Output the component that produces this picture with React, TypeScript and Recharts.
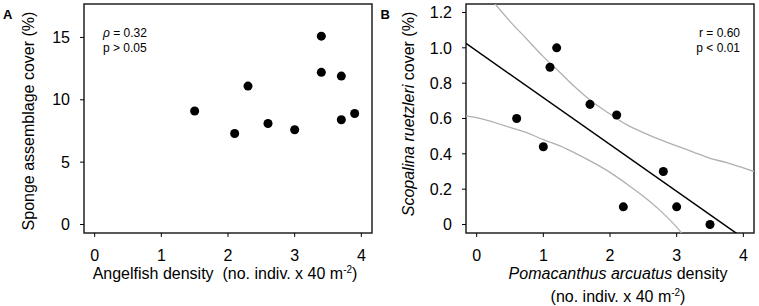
import { ComposedChart, Scatter, Line, XAxis, YAxis, ReferenceArea } from 'recharts';

const FONT = '"Liberation Sans", Arial, Helvetica, sans-serif';

// Panel A: angelfish density vs sponge assemblage cover
const angelDensity = [1.5, 2.1, 2.3, 2.6, 3.0, 3.4, 3.4, 3.7, 3.7, 3.9];
const spongeCover = [9.1, 7.3, 11.1, 8.1, 7.6, 15.1, 12.2, 11.9, 8.4, 8.9];
const xTicks = [0, 1, 2, 3, 4];
const yTicksA = [0, 5, 10, 15];

// Panel B: Pomacanthus arcuatus density vs Scopalina ruetzleri cover
const pomDensity = [0.6, 1.0, 1.1, 1.2, 1.7, 2.1, 2.2, 2.8, 3.0, 3.5];
const scopalinaCover = [0.6, 0.44, 0.89, 1.0, 0.68, 0.62, 0.1, 0.3, 0.1, 0.0];
const yTicksB = [0, 0.2, 0.4, 0.6, 0.8, 1.0, 1.2];

// regression line + confidence band
const fitX = [-0.16, 4.0];
const fitY = [1.025, -0.077];
const upperX = [0.25, 0.5, 0.75, 1.0, 1.25, 1.5, 1.75, 2.0, 2.25, 2.5, 2.75, 3.0, 3.25, 3.5, 3.75, 4.0, 4.16];
const upperY = [1.26, 1.15, 1.05, 0.95, 0.86, 0.77, 0.69, 0.625, 0.565, 0.52, 0.48, 0.445, 0.41, 0.375, 0.35, 0.32, 0.3];
const lowerX = [-0.16, 0, 0.25, 0.5, 0.75, 1.0, 1.25, 1.5, 1.75, 2.0, 2.25, 2.5, 2.75, 3.0, 3.1];
const lowerY = [0.615, 0.605, 0.58, 0.55, 0.52, 0.48, 0.445, 0.4, 0.35, 0.295, 0.23, 0.16, 0.08, -0.015, -0.06];

const xDomain: [number, number] = [-0.16, 4.16];
const yDomainA: [number, number] = [-0.68, 17.68];
const yDomainB: [number, number] = [-0.048, 1.248];

const toPoints = (xs: number[], ys: number[]) => xs.map((x, i) => ({ x, y: ys[i] }));

const tickStyle = { fill: '#000', fontSize: 16, fontFamily: FONT };

function Sup() {
  return (
    <>
      <tspan fontSize={10} dy={-6}>-2</tspan>
      <tspan dy={6}>)</tspan>
    </>
  );
}

export default function App() {
  return (
    <div style={{ position: 'absolute', left: 0, top: 0, width: 759, height: 306, background: '#fff' }}>
      <div style={{ position: 'absolute', left: 0, top: 0 }}>
        <ComposedChart width={380} height={306} margin={{ top: 4, right: 8, bottom: 0, left: 0 }}>
          <XAxis
            type="number"
            dataKey="x"
            domain={xDomain}
            ticks={xTicks}
            interval={0}
            allowDataOverflow
            height={73}
            axisLine={false}
            tickLine={{ stroke: '#000' }}
            tickSize={4}
            tickMargin={13}
            tick={tickStyle}
          />
          <YAxis
            type="number"
            dataKey="y"
            domain={yDomainA}
            ticks={yTicksA}
            interval={0}
            allowDataOverflow
            width={84}
            axisLine={false}
            tickLine={{ stroke: '#000' }}
            tickSize={4}
            tickMargin={10}
            tick={tickStyle}
          />
          <ReferenceArea x1={xDomain[0]} x2={xDomain[1]} y1={yDomainA[0]} y2={yDomainA[1]} fill="none" stroke="#222" strokeWidth={1.5} />
          <Scatter data={toPoints(angelDensity, spongeCover)} fill="#000" isAnimationActive={false} />
        </ComposedChart>
      </div>
      <div style={{ position: 'absolute', left: 380, top: 0 }}>
        <ComposedChart width={379} height={306} margin={{ top: 4, right: 5, bottom: 0, left: 0 }}>
          <XAxis
            type="number"
            dataKey="x"
            domain={xDomain}
            ticks={xTicks}
            interval={0}
            allowDataOverflow
            height={73}
            axisLine={false}
            tickLine={{ stroke: '#000' }}
            tickSize={4}
            tickMargin={13}
            tick={tickStyle}
          />
          <YAxis
            type="number"
            dataKey="y"
            domain={yDomainB}
            ticks={yTicksB}
            interval={0}
            allowDataOverflow
            width={86}
            axisLine={false}
            tickLine={{ stroke: '#000' }}
            tickSize={4}
            tickMargin={10}
            tick={tickStyle}
            tickFormatter={(v: number) => (v === 0 ? '0' : v.toFixed(1))}
          />
          <ReferenceArea x1={xDomain[0]} x2={xDomain[1]} y1={yDomainB[0]} y2={yDomainB[1]} fill="none" stroke="#222" strokeWidth={1.5} />
          <Line data={toPoints(upperX, upperY)} dataKey="y" type="monotone" stroke="#b0b0b0" strokeWidth={1.3} dot={false} isAnimationActive={false} />
          <Line data={toPoints(lowerX, lowerY)} dataKey="y" type="monotone" stroke="#b0b0b0" strokeWidth={1.3} dot={false} isAnimationActive={false} />
          <Line data={toPoints(fitX, fitY)} dataKey="y" type="linear" stroke="#000" strokeWidth={1.5} dot={false} isAnimationActive={false} />
          <Scatter data={toPoints(pomDensity, scopalinaCover)} fill="#000" isAnimationActive={false} />
        </ComposedChart>
      </div>

      {/* titles, panel letters, stats */}
      <svg width={759} height={306} style={{ position: 'absolute', left: 0, top: 0, pointerEvents: 'none' }} fontFamily={FONT}>
        <text x={3} y={19.3} fontSize={13} fontWeight="bold">A</text>
        <text x={380.5} y={19.3} fontSize={13} fontWeight="bold">B</text>

        <text x={103} y={37} fontSize={12}><tspan fontStyle="italic">ρ</tspan> = 0.32</text>
        <text x={103} y={52} fontSize={12}>p &gt; 0.05</text>
        <text x={740} y={37} fontSize={12} textAnchor="end">r = 0.60</text>
        <text x={740} y={52} fontSize={12} textAnchor="end">p &lt; 0.01</text>

        <text transform="translate(34,121) rotate(-90)" fontSize={16} textAnchor="middle">Sponge assemblage cover (%)</text>
        <text transform="translate(414,114) rotate(-90)" fontSize={16} textAnchor="middle">
          <tspan fontStyle="italic">Scopalina ruetzleri</tspan> cover (%)
        </text>

        <text x={225} y={279} fontSize={16} textAnchor="middle">
          Angelfish density{'\u00a0'} (no. indiv. x 40 m<Sup />
        </text>
        <text x={618} y={279} fontSize={16} textAnchor="middle">
          <tspan fontStyle="italic">Pomacanthus arcuatus</tspan> density
        </text>
        <text x={618} y={301.5} fontSize={16} textAnchor="middle">
          (no. indiv. x 40 m<Sup />
        </text>
      </svg>
    </div>
  );
}
